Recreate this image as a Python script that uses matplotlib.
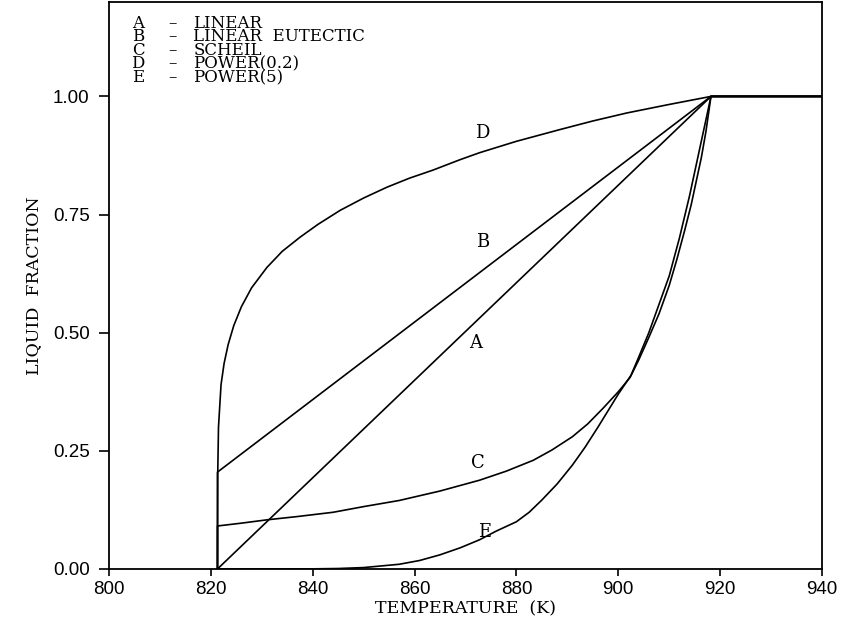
import matplotlib
matplotlib.use("Agg")
import matplotlib.pyplot as plt

# ---- data ----
# A - linear
a_T = [821.3, 918.2, 940.0]
a_f = [0.0, 1.0, 1.0]
# B - linear eutectic
b_T = [821.3, 821.3, 918.2, 940.0]
b_f = [0.0, 0.205, 1.0, 1.0]
# C - Scheil
c_T = [821.3, 821.3, 826.0, 831.0, 837.0, 844.0, 850.0, 857.0, 865.0, 872.8,
       878.0, 883.3, 887.0, 891.0, 894.0, 897.0, 900.0, 902.3, 904.0, 906.0,
       908.0, 910.0, 911.5, 913.0, 914.3, 915.5, 916.3, 917.2, 918.2, 940.0]
c_f = [0.0, 0.091, 0.097, 0.104, 0.111, 0.120, 0.132, 0.145, 0.165, 0.188,
       0.207, 0.230, 0.252, 0.280, 0.307, 0.340, 0.375, 0.405, 0.442, 0.490,
       0.540, 0.600, 0.655, 0.715, 0.770, 0.830, 0.870, 0.925, 1.0, 1.0]
# D - power(0.2)
d_T = [821.3, 821.35, 821.5, 822.0, 822.6, 823.4, 824.5, 826.0, 828.0, 831.0,
       834.0, 837.5, 841.0, 845.4, 850.0, 854.6, 859.0, 863.6, 868.9, 872.8,
       880.0, 888.6, 895.0, 901.7, 910.0, 918.2, 940.0]
d_f = [0.0, 0.20, 0.30, 0.39, 0.435, 0.475, 0.515, 0.555, 0.595, 0.638,
       0.672, 0.702, 0.729, 0.759, 0.785, 0.808, 0.827, 0.844, 0.866, 0.881,
       0.905, 0.930, 0.948, 0.965, 0.983, 1.0, 1.0]
# E - power(5)
e_T = [821.3, 840.0, 845.0, 850.0, 857.0, 861.0, 865.0, 869.0, 872.8, 876.0,
       880.0, 882.5, 885.0, 888.0, 891.0, 893.5, 896.0, 898.0, 900.0, 902.5,
       904.0, 906.0, 908.0, 910.0, 911.0, 912.0, 913.0, 914.0, 915.0, 916.0,
       917.0, 918.2, 940.0]
e_f = [0.0, 0.0003, 0.001, 0.003, 0.010, 0.018, 0.030, 0.045, 0.062, 0.080,
       0.100, 0.120, 0.146, 0.180, 0.220, 0.258, 0.300, 0.335, 0.370, 0.410,
       0.448, 0.500, 0.560, 0.620, 0.660, 0.700, 0.745, 0.790, 0.840, 0.890,
       0.940, 1.0, 1.0]

legend_letters = ["A", "B", "C", "D", "E"]
legend_names = ["LINEAR", "LINEAR  EUTECTIC", "SCHEIL", "POWER(0.2)", "POWER(5)"]
x_ticks = [800, 820, 840, 860, 880, 900, 920, 940]
y_ticks = [0.0, 0.25, 0.5, 0.75, 1.0]

serif = ["DejaVu Serif"]
sans = ["Liberation Sans", "DejaVu Sans"]

fig = plt.figure(figsize=(8.41, 6.32), dpi=100)
ax = fig.add_axes([0.1296, 0.0997, 0.8478, 0.8973])

lw = 1.2
for T, f in [(a_T, a_f), (b_T, b_f), (c_T, c_f), (d_T, d_f), (e_T, e_f)]:
    ax.plot(T, f, color="black", lw=lw, solid_joinstyle="round",
            solid_capstyle="round")

ax.set_xlim(800, 940)
ax.set_ylim(0, 1.2)
ax.set_xticks(x_ticks)
ax.set_xticklabels([str(t) for t in x_ticks], fontfamily=sans, fontsize=13.5)
ax.set_yticks(y_ticks)
ax.set_yticklabels([f"{t:.2f}" for t in y_ticks], fontfamily=sans, fontsize=13.5)
ax.tick_params(axis="y", direction="out", length=7, width=1.2, pad=7)
ax.tick_params(axis="x", direction="out", length=5, width=1.2, pad=4)
for s in ax.spines.values():
    s.set_linewidth(1.3)

ax.set_xlabel("TEMPERATURE  (K)", fontfamily=serif, fontsize=12.5, labelpad=1)
ax.set_ylabel("LIQUID  FRACTION", fontfamily=serif, fontsize=12.5, labelpad=8)

# curve labels
curve_labels = [("A", 871.9, 0.478), ("B", 873.4, 0.691), ("C", 872.5, 0.224),
                ("D", 873.2, 0.922), ("E", 873.8, 0.078)]
for lab, x, y in curve_labels:
    ax.text(x, y, lab, fontfamily=serif, fontsize=13, ha="center", va="center")

# legend block (three multi-line columns)
ytop = 1 - 13.0 / 566.0
ls = 0.73
ax.text(0.041, ytop, "\n".join(legend_letters), transform=ax.transAxes,
        fontfamily=serif, fontsize=12, ha="center", va="top", linespacing=ls)
ax.text(0.089, ytop, "\n".join(["\u2013"] * 5), transform=ax.transAxes,
        fontfamily=serif, fontsize=12, ha="center", va="top", linespacing=ls)
ax.text(0.118, ytop, "\n".join(legend_names), transform=ax.transAxes,
        fontfamily=serif, fontsize=12, ha="left", va="top", linespacing=ls)

fig.savefig("out.png", dpi=100)
